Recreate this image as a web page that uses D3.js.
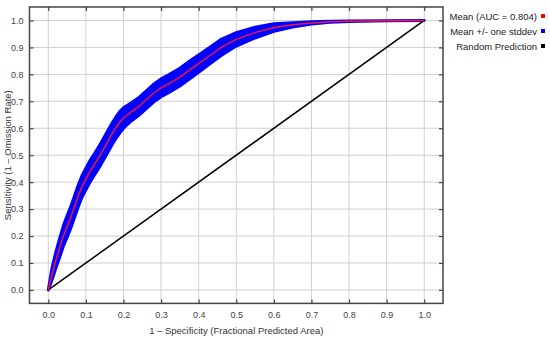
<!DOCTYPE html>
<head>
    <meta charset="utf-8">
    <title>ROC curve</title>
    <script src="https://d3js.org/d3.v7.min.js"></script>
</head>

<body>
<svg id="chart" width="550" height="340"></svg>
</body>

<script>

    // fractional predicted area (1 - specificity)
    var fpr = [0, 0.01, 0.02, 0.03, 0.04, 0.05, 0.06, 0.07, 0.08, 0.09, 0.10, 0.11, 0.12, 0.13, 0.14, 0.15,
        0.16, 0.17, 0.18, 0.19, 0.20, 0.22, 0.24, 0.26, 0.28, 0.30, 0.32, 0.35, 0.38, 0.40, 0.43, 0.46,
        0.50, 0.55, 0.60, 0.65, 0.70, 0.75, 0.80, 0.90, 1.0]
    // mean sensitivity
    var meanTpr = [0, 0.06, 0.11, 0.155, 0.20, 0.235, 0.27, 0.31, 0.35, 0.385, 0.412, 0.438, 0.46, 0.482, 0.505, 0.53,
        0.555, 0.58, 0.602, 0.622, 0.638, 0.66, 0.68, 0.705, 0.73, 0.75, 0.765, 0.79, 0.82, 0.84, 0.87, 0.90,
        0.93, 0.955, 0.974, 0.984, 0.991, 0.995, 0.997, 0.999, 1.0]
    // one standard deviation
    var sdTpr = [0, 0.022, 0.03, 0.035, 0.038, 0.04, 0.04, 0.04, 0.04, 0.04, 0.04, 0.04, 0.04, 0.04, 0.04, 0.04,
        0.04, 0.04, 0.04, 0.04, 0.038, 0.034, 0.033, 0.033, 0.033, 0.033, 0.033, 0.033, 0.033, 0.032, 0.031, 0.03,
        0.025, 0.02, 0.014, 0.008, 0.004, 0.002, 0.001, 0, 0]

    var tickValues = [0, 0.1, 0.2, 0.3, 0.4, 0.5, 0.6, 0.7, 0.8, 0.9, 1.0]
    var randomLine = [0, 1]

    var legendLabels = ["Mean (AUC = 0.804)", "Mean +/- one stddev", "Random Prediction"]
    var legendColors = ["#ff0000", "#0000ff", "#000000"]

    var svg = d3.select("#chart")

    var x = d3.scaleLinear().domain([-0.05, 1.05]).range([29.5, 443])
    var y = d3.scaleLinear().domain([-0.05, 1.05]).range([303.4, 7])

    // background + grid
    svg.append("rect").attr("x", 0).attr("y", 0).attr("width", 550).attr("height", 340).attr("fill", "white")

    svg.selectAll(".vgrid")
        .data(tickValues)
        .enter().append("line")
        .attr("class", "vgrid")
        .attr("x1", function(d) { return x(d) })
        .attr("x2", function(d) { return x(d) })
        .attr("y1", y(-0.05))
        .attr("y2", y(1.05))
        .attr("stroke", "#cfcfcf")
        .attr("stroke-width", 1)

    svg.selectAll(".hgrid")
        .data(tickValues)
        .enter().append("line")
        .attr("class", "hgrid")
        .attr("x1", x(-0.05))
        .attr("x2", x(1.05))
        .attr("y1", function(d) { return y(d) })
        .attr("y2", function(d) { return y(d) })
        .attr("stroke", "#cfcfcf")
        .attr("stroke-width", 1)

    // std band
    var band = d3.area()
        .x(function(d, i) { return x(fpr[i]) })
        .y0(function(d, i) { return y(meanTpr[i] - sdTpr[i]) })
        .y1(function(d, i) { return y(meanTpr[i] + sdTpr[i]) })

    svg.append("path")
        .datum(fpr)
        .attr("d", band)
        .attr("fill", "#0000ff")
        .attr("stroke", "#0000ff")
        .attr("stroke-width", 3)
        .attr("stroke-linejoin", "round")

    // random prediction
    svg.append("path")
        .datum(randomLine)
        .attr("d", d3.line().x(function(d) { return x(d) }).y(function(d) { return y(d) }))
        .attr("fill", "none")
        .attr("stroke", "#000000")
        .attr("stroke-width", 1.5)

    // mean
    svg.append("path")
        .datum(fpr)
        .attr("d", d3.line()
            .x(function(d, i) { return x(fpr[i]) })
            .y(function(d, i) { return y(meanTpr[i]) }))
        .attr("fill", "none")
        .attr("stroke", "#f5143c")
        .attr("stroke-width", 1.5)

    // axes (ticks point inward)
    var bottom = svg.append("g")
        .attr("transform", "translate(0," + y(-0.05) + ")")
        .call(d3.axisBottom(x).tickValues(tickValues).tickSize(-4).tickPadding(8).tickFormat(d3.format(".1f")))
    var top = svg.append("g")
        .attr("transform", "translate(0," + y(1.05) + ")")
        .call(d3.axisTop(x).tickValues(tickValues).tickSize(-4).tickFormat(""))
    var left = svg.append("g")
        .attr("transform", "translate(" + x(-0.05) + ",0)")
        .call(d3.axisLeft(y).tickValues(tickValues).tickSize(-4).tickPadding(6).tickFormat(d3.format(".1f")))
    var right = svg.append("g")
        .attr("transform", "translate(" + x(1.05) + ",0)")
        .call(d3.axisRight(y).tickValues(tickValues).tickSize(-4).tickFormat(""))

    svg.selectAll(".domain").remove()
    svg.selectAll(".tick line").attr("stroke", "#444").attr("stroke-width", 1.2)
    svg.selectAll(".tick text")
        .style("font-family", "Liberation Sans, Arial, sans-serif")
        .style("font-size", "9px")
        .attr("fill", "#444")

    // frame
    svg.append("rect")
        .attr("x", x(-0.05))
        .attr("y", y(1.05))
        .attr("width", x(1.05) - x(-0.05))
        .attr("height", y(-0.05) - y(1.05))
        .attr("fill", "none")
        .attr("stroke", "#444")
        .attr("stroke-width", 1.5)

    // axis titles
    svg.append("text")
        .attr("x", x(0.5)).attr("y", 334)
        .attr("text-anchor", "middle")
        .text("1 \u2013 Specificity (Fractional Predicted Area)")
        .style("font-family", "Liberation Sans, Arial, sans-serif")
        .style("font-size", "9.5px")
        .attr("fill", "#333")

    svg.append("text")
        .attr("transform", "translate(11," + y(0.5) + ") rotate(-90)")
        .attr("text-anchor", "middle")
        .text("Sensitivity (1 \u2013 Omission Rate)")
        .style("font-family", "Liberation Sans, Arial, sans-serif")
        .style("font-size", "9.5px")
        .attr("fill", "#333")

    // legend
    var legend = svg.selectAll(".legend")
        .data(legendLabels)
        .enter().append("g")
        .attr("class", "legend")
        .attr("transform", function(d, i) { return "translate(0," + (17 + i * 15) + ")" })

    legend.append("text")
        .attr("x", 537).attr("y", 0)
        .attr("dy", "0.35em")
        .attr("text-anchor", "end")
        .text(function(d) { return d })
        .style("font-family", "Liberation Sans, Arial, sans-serif")
        .style("font-size", "9.5px")
        .attr("fill", "#222")

    legend.append("rect")
        .attr("x", 541).attr("y", -3)
        .attr("width", 4).attr("height", 4)
        .attr("fill", function(d, i) { return legendColors[i] })

</script>

<style>
    html, body {
        margin: 0;
    }
    svg {
        display: block;
    }
</style>

</html>
